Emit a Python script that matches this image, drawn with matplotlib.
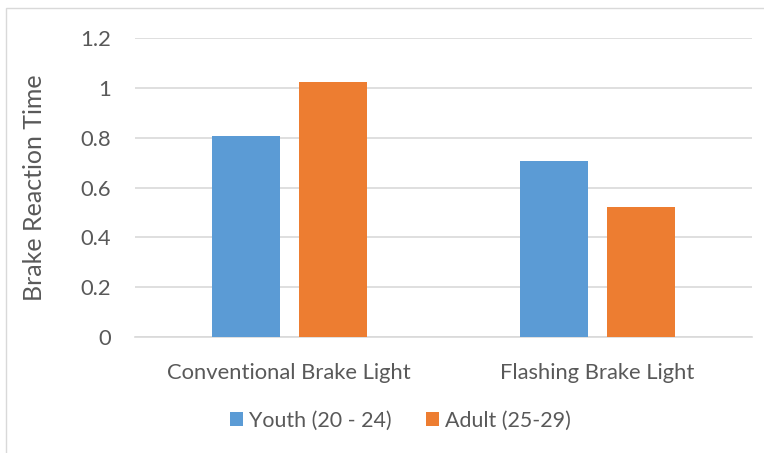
import numpy as np
import matplotlib.pyplot as plt
from matplotlib.patches import Rectangle

categories = ["Conventional Brake Light", "Flashing Brake Light"]
youth = [0.806, 0.707]
adult = [1.023, 0.522]
series_names = ["Youth (20 - 24)", "Adult (25-29)"]
yticks = [0, 0.2, 0.4, 0.6, 0.8, 1.0, 1.2]
ytick_labels = ["0", "0.2", "0.4", "0.6", "0.8", "1", "1.2"]

plt.rcParams['font.family'] = ['Lato', 'DejaVu Sans']
text_color = "#595959"
grid_color = "#D9D9D9"

fig = plt.figure(figsize=(7.64, 4.53), dpi=100)
ax = fig.add_axes([0.1767, 0.256, 0.807, 0.66])

# outer chart border
fig.patches.append(Rectangle((6 / 764, -0.05), 1.0, 1.05 - 8 / 453,
                             transform=fig.transFigure, fill=False,
                             edgecolor=grid_color, linewidth=1))

x = np.arange(len(categories))
w = 0.22
off = 0.141
ax.bar(x - off, youth, w, color="#5B9BD5", label=series_names[0], zorder=3)
ax.bar(x + off, adult, w, color="#ED7D31", label=series_names[1], zorder=3)

ax.set_xlim(-0.5, 1.5)
ax.set_ylim(0, 1.2)
ax.set_yticks(yticks)
ax.set_yticklabels(ytick_labels)
ax.set_xticks(x)
ax.set_xticklabels(categories)
ax.tick_params(length=0, labelsize=15.8, colors=text_color)
ax.tick_params(axis='y', pad=17)
ax.tick_params(axis='x', pad=19)
ax.yaxis.grid(True, color=grid_color, linewidth=1.2, zorder=0)
ax.set_axisbelow(True)
for s in ["top", "right", "left"]:
    ax.spines[s].set_visible(False)
ax.spines["bottom"].set_color(grid_color)
ax.spines["bottom"].set_linewidth(1.2)

ax.set_ylabel("Brake Reaction Time", fontsize=18, color=text_color, labelpad=25)

leg = fig.legend(loc="center", bbox_to_anchor=(0.524, 0.072), ncol=2, frameon=False,
                 fontsize=15.4, handlelength=0.6, handleheight=0.6,
                 handletextpad=0.3, columnspacing=1.6)
for t in leg.get_texts():
    t.set_color(text_color)

fig.savefig("out.png", dpi=100)
